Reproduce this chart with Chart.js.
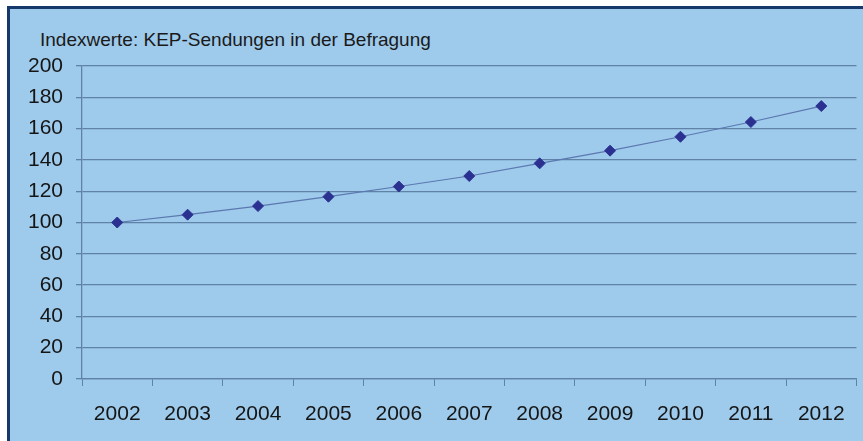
<!DOCTYPE html>
<html>
<head>
<meta charset="utf-8">
<title>Indexwerte: KEP-Sendungen in der Befragung</title>
<script src="https://cdn.jsdelivr.net/npm/chart.js@4.4.1/dist/chart.umd.min.js"></script>
<style>
  html, body { margin: 0; padding: 0; background: #ffffff; }
  body { width: 863px; height: 441px; overflow: hidden; position: relative; font-family: "Liberation Sans", Arial, sans-serif; }
  #frame {
    position: absolute; left: 7px; top: 6px; right: 0; bottom: 0;
    background: #9ecaeb;
    border-left: 3px solid #17386b;
    border-top: 3px solid #17386b;
  }
  #title {
    position: absolute; left: 40px; top: 29px;
    font-size: 19px; color: #1a1a1a; white-space: nowrap;
  }
  #wrap { position: absolute; left: 0; top: 0; width: 863px; height: 441px; }
</style>
</head>
<body>
<div id="frame"></div>
<div id="title">Indexwerte: KEP-Sendungen in der Befragung</div>
<div id="wrap"><canvas id="chart"></canvas></div>
<script>
'use strict';

// Jahre (Kategorien) und Indexwerte (2002 = 100)
var years = ['2002', '2003', '2004', '2005', '2006', '2007', '2008', '2009', '2010', '2011', '2012'];
var indexValues = [100, 105, 110.5, 116.5, 123, 129.7, 137.8, 145.9, 154.8, 164.2, 174.4];
var yTicks = [0, 20, 40, 60, 80, 100, 120, 140, 160, 180, 200];

var gridColor = '#5f82a6';
var textColor = '#151515';
var fontFamily = '"Liberation Sans", Arial, sans-serif';

var ctx = document.getElementById('chart').getContext('2d');

new Chart(ctx, {
  type: 'line',
  data: {
    labels: years,
    datasets: [{
      label: 'KEP-Sendungen',
      data: indexValues,
      borderColor: '#5b78b0',
      borderWidth: 1.2,
      pointStyle: 'rectRot',
      pointRadius: 5.5,
      pointBackgroundColor: '#2b3190',
      pointBorderColor: '#2b3190',
      pointBorderWidth: 1,
      tension: 0,
      fill: false
    }]
  },
  options: {
    responsive: true,
    maintainAspectRatio: false,
    animation: false,
    layout: { padding: { left: 0, right: 1, top: 66, bottom: 0 } },
    plugins: {
      legend: { display: false },
      title: { display: false },
      tooltip: { enabled: false }
    },
    scales: {
      x: {
        type: 'category',
        offset: true,
        grid: {
          offset: true,
          drawOnChartArea: false,
          drawTicks: true,
          tickLength: 7,
          color: gridColor
        },
        border: { display: true, color: gridColor, width: 1.3 },
        ticks: {
          color: textColor,
          font: { family: fontFamily, size: 21 },
          padding: 16,
          maxRotation: 0,
          autoSkip: false
        },
        afterFit: function(scale) { scale.height = 62; }
      },
      y: {
        min: 0,
        max: 200,
        afterBuildTicks: function(scale) {
          scale.ticks = yTicks.map(function(v) { return { value: v }; });
        },
        grid: {
          color: gridColor,
          lineWidth: 1.3,
          drawTicks: true,
          tickLength: 6
        },
        border: { display: true, color: gridColor, width: 1.3 },
        ticks: {
          color: textColor,
          font: { family: fontFamily, size: 21 },
          padding: 13
        },
        afterFit: function(scale) { scale.width = 82; }
      }
    }
  }
});
</script>
</body>
</html>
